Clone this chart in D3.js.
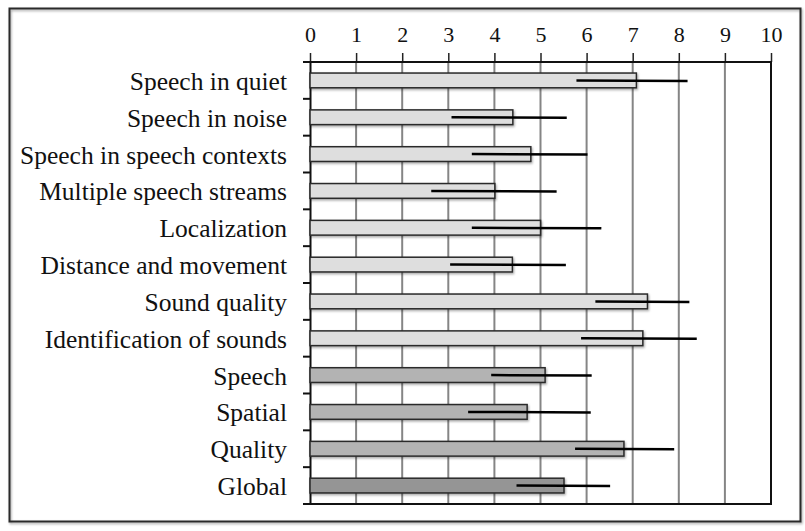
<!DOCTYPE html>
<html>
<head>
<meta charset="utf-8">
<script src="https://cdn.jsdelivr.net/npm/d3@7"></script>
<style>
  html, body { margin: 0; padding: 0; background: #fff; }
  svg { display: block; }
</style>
</head>
<body>
<svg id="chart" width="805" height="531"></svg>
<script>
// Mean scores per scale, with the low and high ends of each error bar
const categories = [
  "Speech in quiet", "Speech in noise", "Speech in speech contexts",
  "Multiple speech streams", "Localization", "Distance and movement",
  "Sound quality", "Identification of sounds", "Speech", "Spatial",
  "Quality", "Global"
];
const means   = [7.08, 4.40, 4.79, 4.01, 5.00, 4.39, 7.32, 7.22, 5.10, 4.71, 6.81, 5.51];
const errLow  = [5.78, 3.07, 3.51, 2.63, 3.51, 3.04, 6.19, 5.88, 3.93, 3.43, 5.75, 4.48];
const errHigh = [8.19, 5.57, 6.02, 5.35, 6.32, 5.55, 8.23, 8.39, 6.11, 6.09, 7.90, 6.51];
// Grouping: item scales, subscale totals, overall score
const groups  = ["item", "item", "item", "item", "item", "item", "item", "item",
                 "sub", "sub", "sub", "total"];
const tickValues = [0, 1, 2, 3, 4, 5, 6, 7, 8, 9, 10];

const fills = { item: "#dedede", sub: "#b3b3b3", total: "#959595" };

const svg = d3.select("#chart");
const font = "'Liberation Serif', 'DejaVu Serif', serif";

const plot = { left: 310, right: 771, top: 62, bottom: 504 };

const defs = svg.append("defs");
const shadow = defs.append("filter").attr("id", "shadow")
  .attr("x", "-5%").attr("y", "-40%").attr("width", "110%").attr("height", "180%");
shadow.append("feDropShadow").attr("dx", 1).attr("dy", 1.5)
  .attr("stdDeviation", 1.2).attr("flood-color", "#000").attr("flood-opacity", 0.35);

// Outer frame
svg.append("rect")
  .attr("x", 9.5).attr("y", 8.5).attr("width", 791).attr("height", 513)
  .attr("fill", "none").attr("stroke", "#2a2a2a").attr("stroke-width", 2)
  .attr("filter", "url(#shadow)");

const x = d3.scaleLinear().domain([0, 10]).range([plot.left, plot.right]);
const y = d3.scaleBand().domain(categories).range([plot.top, plot.bottom]).padding(0);

// Vertical gridlines
svg.append("g").selectAll("line")
  .data(tickValues.filter(v => v > 0 && v < 10))
  .join("line")
  .attr("x1", d => x(d)).attr("x2", d => x(d))
  .attr("y1", plot.top).attr("y2", plot.bottom)
  .attr("stroke", "#858585").attr("stroke-width", 2);

// Top value axis
const xAxis = svg.append("g")
  .attr("transform", `translate(0,${plot.top})`)
  .call(d3.axisTop(x).tickValues(tickValues).tickSize(9).tickPadding(11).tickFormat(d3.format("d")));
xAxis.select(".domain").remove();
xAxis.selectAll(".tick line").attr("stroke", "#222").attr("stroke-width", 1.5);
xAxis.selectAll(".tick text")
  .attr("font-family", font).attr("font-size", 22).attr("fill", "#111");

// Plot border lines: top, right, bottom
svg.append("line").attr("x1", 303).attr("x2", plot.right + 1)
  .attr("y1", plot.top).attr("y2", plot.top).attr("stroke", "#111").attr("stroke-width", 2);
svg.append("line").attr("x1", plot.right).attr("x2", plot.right)
  .attr("y1", plot.top).attr("y2", plot.bottom).attr("stroke", "#111").attr("stroke-width", 2);
svg.append("line").attr("x1", 303).attr("x2", plot.right + 1)
  .attr("y1", plot.bottom).attr("y2", plot.bottom).attr("stroke", "#111").attr("stroke-width", 2);

// Category axis on the left
const yAxis = svg.append("g")
  .attr("transform", `translate(${plot.left},0)`)
  .call(d3.axisLeft(y).tickSize(0).tickPadding(23));
yAxis.select(".domain").attr("stroke", "#111").attr("stroke-width", 2);
yAxis.selectAll(".tick text")
  .attr("font-family", font).attr("font-size", 25.5).attr("fill", "#111")
  .attr("dy", "0.37em");

// Tick marks at band boundaries
const boundaries = d3.range(categories.length + 1).map(i => plot.top + i * y.step());
svg.append("g").selectAll("line")
  .data(boundaries)
  .join("line")
  .attr("x1", 303).attr("x2", plot.left)
  .attr("y1", d => d).attr("y2", d => d)
  .attr("stroke", "#111").attr("stroke-width", 2);

// Bars
const barH = y.bandwidth() * 0.4;
const rows = categories.map((c, i) => ({
  cat: c, mean: means[i], lo: errLow[i], hi: errHigh[i], group: groups[i]
}));

svg.append("g").selectAll("rect")
  .data(rows)
  .join("rect")
  .attr("x", x(0))
  .attr("y", d => y(d.cat) + (y.bandwidth() - barH) / 2)
  .attr("width", d => x(d.mean) - x(0))
  .attr("height", barH)
  .attr("fill", d => fills[d.group])
  .attr("stroke", "#2b2b2b").attr("stroke-width", 1.5)
  .attr("filter", "url(#shadow)");

// Error bars
svg.append("g").selectAll("line")
  .data(rows)
  .join("line")
  .attr("x1", d => x(d.lo)).attr("x2", d => x(d.hi))
  .attr("y1", d => y(d.cat) + y.bandwidth() / 2)
  .attr("y2", d => y(d.cat) + y.bandwidth() / 2 + 0.5)
  .attr("stroke", "#000").attr("stroke-width", 2.5);
</script>
</body>
</html>
